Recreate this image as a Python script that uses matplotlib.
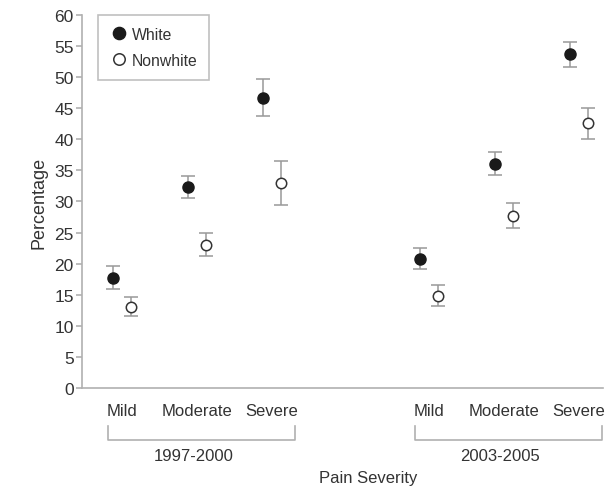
import numpy as np
import matplotlib
matplotlib.use('Agg')
import matplotlib.pyplot as plt
from matplotlib.transforms import blended_transform_factory

plt.rcParams['font.family'] = ['Liberation Sans', 'DejaVu Sans']

severity = ['Mild', 'Moderate', 'Severe']
periods = ['1997-2000', '2003-2005']

# percentages, period 1 then period 2
white = [17.7, 32.3, 46.7, 20.8, 36.1, 53.7]
white_lo = [16.0, 30.5, 43.8, 19.2, 34.2, 51.7]
white_hi = [19.6, 34.1, 49.7, 22.5, 37.9, 55.7]
nonwhite = [13.1, 23.0, 33.0, 14.8, 27.7, 42.6]
nonwhite_lo = [11.6, 21.3, 29.4, 13.2, 25.8, 40.0]
nonwhite_hi = [14.7, 25.0, 36.5, 16.6, 29.7, 45.1]

axis_col = '#b0b0b0'
text_col = '#333333'
err_col = '#999999'

# group centres: 3 severities per period, gap between periods
centers = np.concatenate([np.arange(3), np.arange(3) + 4.09])
off = 0.117

fig = plt.figure(figsize=(6.06, 4.89), dpi=100, facecolor='white')
ax = fig.add_axes([0.1353, 0.2045, 0.86, 0.7628])

w = np.array(white)
nw = np.array(nonwhite)
ax.errorbar(centers - off, w, yerr=[w - np.array(white_lo), np.array(white_hi) - w],
            fmt='none', ecolor=err_col, elinewidth=1.1, capsize=4.8, capthick=1.1, zorder=2)
ax.errorbar(centers + off, nw, yerr=[nw - np.array(nonwhite_lo), np.array(nonwhite_hi) - nw],
            fmt='none', ecolor=err_col, elinewidth=1.1, capsize=4.8, capthick=1.1, zorder=2)
ax.plot(centers - off, w, 'o', ms=8, mfc='#1a1a1a', mec='#1a1a1a', ls='none',
        label='White', zorder=3)
ax.plot(centers + off, nw, 'o', ms=7.5, mfc='white', mec='#333333', mew=1.1, ls='none',
        label='Nonwhite', zorder=3)

ax.set_xlim(-0.533, 6.41)
ax.set_ylim(0, 60)
ax.set_yticks(np.arange(0, 61, 5))
ax.set_xticks(centers)
ax.set_xticklabels(severity * 2)

for s in ['top', 'right']:
    ax.spines[s].set_visible(False)
for s in ['left', 'bottom']:
    ax.spines[s].set_color(axis_col)
    ax.spines[s].set_linewidth(1.2)

ax.tick_params(axis='y', direction='out', length=4.5, width=1.2, color=axis_col,
               labelcolor=text_col, labelsize=12.5, pad=1.5)
ax.tick_params(axis='x', length=0, labelcolor=text_col, labelsize=12, pad=11)

ax.set_ylabel('Percentage', fontsize=13, color=text_col, labelpad=5)

# period brackets below the tick labels
tr = blended_transform_factory(ax.transData, ax.transAxes)
for i, name in enumerate(periods):
    x0 = centers[3 * i] - 0.19
    x1 = centers[3 * i + 2] + 0.31
    ax.plot([x0, x0, x1, x1], [-0.102, -0.139, -0.139, -0.102], color=axis_col,
            lw=1.2, transform=tr, clip_on=False)
    ax.text(centers[3 * i + 1] - 0.05, -0.182, name, transform=tr, ha='center', va='center',
            fontsize=12, color=text_col)

ax.text(0.55, -0.239, 'Pain Severity', transform=ax.transAxes, ha='center', va='center',
        fontsize=12, color=text_col)

leg = ax.legend(loc='upper left', bbox_to_anchor=(0.031, 1.0), borderaxespad=0,
                fancybox=False, fontsize=11.3, handletextpad=0.2, handlelength=1.2,
                borderpad=0.75, labelspacing=0.7, labelcolor=text_col, markerscale=1.1)
leg.get_frame().set_edgecolor(axis_col)
leg.get_frame().set_linewidth(1.2)

fig.savefig('out.png', dpi=100)
